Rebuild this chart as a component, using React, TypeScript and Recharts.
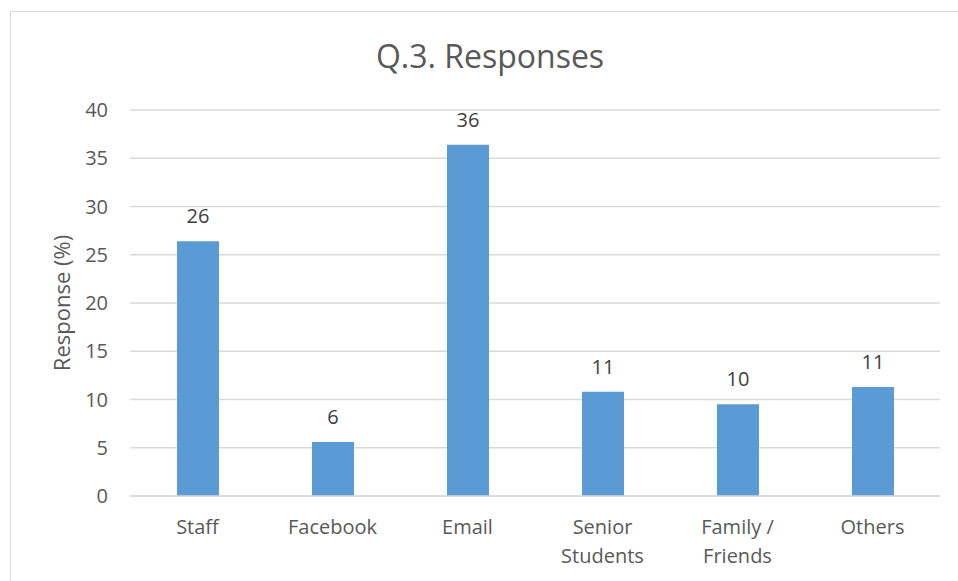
import { BarChart, Bar, XAxis, YAxis, CartesianGrid, LabelList } from 'recharts';

const categories = ['Staff', 'Facebook', 'Email', 'Senior Students', 'Family / Friends', 'Others'];
const responses = [26.4, 5.6, 36.4, 10.8, 9.5, 11.3];
const yTicks = [0, 5, 10, 15, 20, 25, 30, 35, 40];

const tickLines: Record<string, string[]> = {
  'Senior Students': ['Senior', 'Students'],
  'Family / Friends': ['Family /', 'Friends'],
};

const FONT = '"Open Sans", sans-serif';

const data = categories.map((name, i) => ({ name, value: responses[i] }));

function CategoryTick({ x, y, payload }: any) {
  const lines = tickLines[payload.value] || [payload.value];
  return (
    <text x={x} y={y} textAnchor="middle" fill="#595959" fontSize={20} fontFamily={FONT}>
      {lines.map((line, i) => (
        <tspan key={i} x={x} dy={i === 0 ? 30 : 29}>
          {line}
        </tspan>
      ))}
    </text>
  );
}

export default function App() {
  return (
    <div style={{ position: 'fixed', left: 0, top: 0, width: 958, height: 581, overflow: 'hidden', background: '#fff' }}>
      <div
        style={{
          position: 'absolute',
          left: 10,
          top: 11,
          width: 1000,
          height: 620,
          border: '1px solid #d9d9d9',
          boxSizing: 'border-box',
        }}
      />
      <div
        style={{
          position: 'absolute',
          left: 0,
          top: 34,
          width: 980,
          textAlign: 'center',
          fontFamily: FONT,
          fontSize: 32,
          lineHeight: '44px',
          color: '#595959',
        }}
      >
        Q.3. Responses
      </div>
      <div style={{ position: 'absolute', left: 8, top: 8 }}>
        <BarChart
          width={948}
          height={565}
          data={data}
          margin={{ top: 102, right: 16, bottom: 17, left: 0 }}
        >
          <CartesianGrid vertical={false} stroke="#d9d9d9" strokeWidth={1.3} />
          <XAxis
            dataKey="name"
            height={60}
            tick={<CategoryTick />}
            tickLine={false}
            axisLine={{ stroke: '#d9d9d9', strokeWidth: 1.3 }}
            interval={0}
          />
          <YAxis
            width={122}
            domain={[0, 40]}
            ticks={yTicks}
            tickLine={false}
            axisLine={false}
            tickMargin={16}
            tick={{ fill: '#595959', fontSize: 20, fontFamily: FONT }}
            label={{
              value: 'Response (%)',
              angle: -90,
              position: 'insideLeft',
              offset: 54,
              style: { textAnchor: 'middle', fill: '#595959', fontSize: 22, fontFamily: FONT },
            }}
          />
          <Bar dataKey="value" fill="#5b9bd5" barSize={42} isAnimationActive={false}>
            <LabelList
              dataKey="value"
              position="top"
              offset={18}
              formatter={(v: any) => Math.round(Number(v))}
              style={{ fill: '#404040', fontSize: 20, fontFamily: FONT }}
            />
          </Bar>
        </BarChart>
      </div>
    </div>
  );
}
